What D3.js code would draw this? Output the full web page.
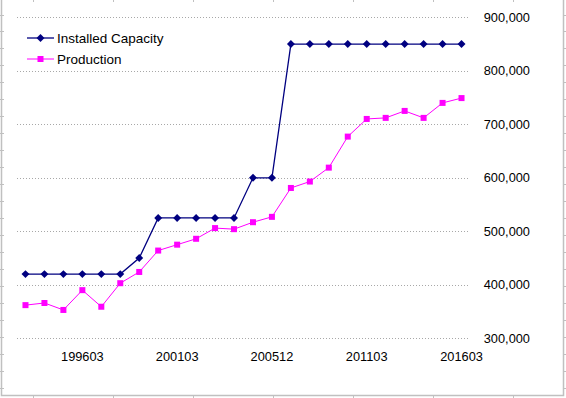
<!DOCTYPE html>
<html>
<head>
<meta charset="utf-8">
<script src="https://cdn.jsdelivr.net/npm/d3@7"></script>
<style>
  body { margin: 0; background: #fff; }
  svg { display: block; font-family: "Liberation Sans", Arial, sans-serif; }
</style>
</head>
<body>
<div id="chart"></div>
<script>
var periods = ["199303","199403","199503","199603","199703","199803","199903","200003",
               "200103","200203","200303","200403","200503","200512","200612","200712",
               "200812","201003","201103","201203","201303","201403","201503","201603"];
var capacity = [420000,420000,420000,420000,420000,420000,450000,525000,
                525000,525000,525000,525000,600000,600000,850000,850000,
                850000,850000,850000,850000,850000,850000,850000,850000];
var production = [362000,366000,353000,390000,359000,403000,424000,464000,
                  475000,486000,506000,504000,517000,527000,581000,593000,
                  619000,677000,710000,712000,725000,712000,740000,749000];
var yTicks = [300000,400000,500000,600000,700000,800000,900000];
var xLabelEvery = 5, xLabelStart = 3;

var width = 566, height = 398;

var svg = d3.select("#chart")
  .append("svg")
  .attr("width", width)
  .attr("height", height);

// outer frame with little ruler ticks
var frame = svg.append("g")
  .attr("stroke", "#c0c0c0")
  .attr("fill", "none");
frame.append("path")
  .attr("d", "M1.5,0 V395.5 H563.5 V0")
  .attr("stroke-width", 1.5);
d3.range(14.5, 395, 16.97).forEach(function (y) {
  y = Math.round(y) + 0.5;
  frame.append("line").attr("x1", 0).attr("x2", 4).attr("y1", y).attr("y2", y);
  frame.append("line").attr("x1", 563).attr("x2", 566).attr("y1", y).attr("y2", y);
});
d3.range(33, 560, 80).forEach(function (x) {
  x = x + 0.5;
  frame.append("line").attr("x1", x).attr("x2", x).attr("y1", 0).attr("y2", 2);
  frame.append("line").attr("x1", x).attr("x2", x).attr("y1", 395).attr("y2", 398);
});

var x = d3.scaleBand()
  .domain(periods)
  .range([16, 471]);
var cx = function (p) { return x(p) + x.bandwidth() / 2; };

var y = d3.scaleLinear()
  .domain([300000, 900000])
  .range([338.3, 17.3]);

// gridlines
svg.append("g")
  .selectAll("line")
  .data(yTicks)
  .enter()
  .append("line")
  .attr("x1", 17)
  .attr("x2", 470)
  .attr("y1", d => Math.round(y(d)) + 0.5)
  .attr("y2", d => Math.round(y(d)) + 0.5)
  .attr("stroke", "#a8a8a8")
  .attr("stroke-dasharray", "1,2");

// right value axis
var yAxis = svg.append("g")
  .attr("transform", "translate(530,0)")
  .call(d3.axisLeft(y).tickValues(yTicks).tickSize(0).tickPadding(0)
    .tickFormat(d3.format(",")));
yAxis.select(".domain").remove();
yAxis.selectAll("text")
  .attr("font-size", 12.8)
  .attr("font-family", "Liberation Sans, Arial, sans-serif")
  .attr("fill", "#000");

// category axis labels
var xAxis = svg.append("g")
  .attr("transform", "translate(0,351.5)")
  .call(d3.axisBottom(x).tickSize(0).tickPadding(0)
    .tickValues(periods.filter((d, i) => i >= xLabelStart && (i - xLabelStart) % xLabelEvery === 0)));
xAxis.select(".domain").remove();
xAxis.selectAll("text")
  .attr("font-size", 12.8)
  .attr("font-family", "Liberation Sans, Arial, sans-serif")
  .attr("fill", "#000")
  .attr("dy", "0.71em");

var series = [
  { name: "Installed Capacity", values: capacity, color: "#000080", width: 1.3, symbol: d3.symbolDiamond2, size: 40 },
  { name: "Production", values: production, color: "#ff00ff", width: 1, symbol: d3.symbolSquare2, size: 46 }
];

var line = d3.line()
  .x((d, i) => cx(periods[i]))
  .y(d => y(d));

series.slice().reverse().forEach(function (s) {
  var g = svg.append("g");
  g.append("path")
    .attr("d", line(s.values))
    .attr("fill", "none")
    .attr("stroke", s.color)
    .attr("stroke-width", s.width);
  g.selectAll("path.pt")
    .data(s.values)
    .enter()
    .append("path")
    .attr("class", "pt")
    .attr("d", d3.symbol().type(s.symbol).size(s.size))
    .attr("transform", (d, i) => "translate(" + cx(periods[i]) + "," + y(d) + ")")
    .attr("fill", s.color);
});

// legend
var legend = svg.append("g");
series.forEach(function (s, i) {
  var ly = 38 + i * 21;
  legend.append("line")
    .attr("x1", 27).attr("x2", 54)
    .attr("y1", ly).attr("y2", ly)
    .attr("stroke", s.color)
    .attr("stroke-width", s.width);
  legend.append("path")
    .attr("d", d3.symbol().type(s.symbol).size(s.size))
    .attr("transform", "translate(40.5," + ly + ")")
    .attr("fill", s.color);
  legend.append("text")
    .attr("x", 57)
    .attr("y", ly)
    .attr("dy", "0.36em")
    .attr("font-size", 13.5)
    .attr("fill", "#000")
    .text(s.name);
});
</script>
</body>
</html>
